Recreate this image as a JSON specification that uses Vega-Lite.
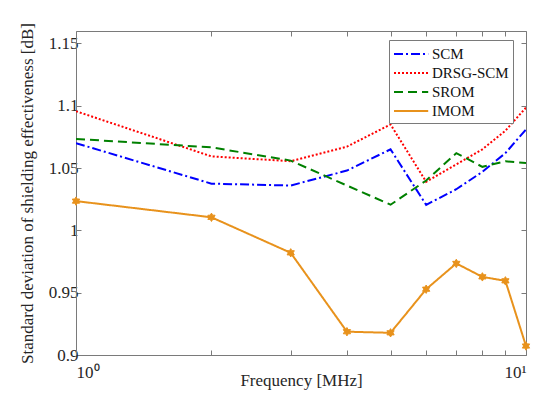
{
  "$schema": "https://vega.github.io/schema/vega-lite/v6.json",
  "autosize": "none",
  "width": 450,
  "height": 324,
  "padding": {"left": 76, "top": 31, "right": 13, "bottom": 41},
  "background": "white",
  "data": {"values": [
    {"f": 1, "series": "SCM", "v": 1.070},
    {"f": 2, "series": "SCM", "v": 1.0375},
    {"f": 3, "series": "SCM", "v": 1.036},
    {"f": 4, "series": "SCM", "v": 1.048},
    {"f": 5, "series": "SCM", "v": 1.065},
    {"f": 6, "series": "SCM", "v": 1.0205},
    {"f": 7, "series": "SCM", "v": 1.033},
    {"f": 8, "series": "SCM", "v": 1.047},
    {"f": 9, "series": "SCM", "v": 1.062},
    {"f": 10, "series": "SCM", "v": 1.081},
    {"f": 1, "series": "DRSG-SCM", "v": 1.0956},
    {"f": 2, "series": "DRSG-SCM", "v": 1.0594},
    {"f": 3, "series": "DRSG-SCM", "v": 1.0555},
    {"f": 4, "series": "DRSG-SCM", "v": 1.0672},
    {"f": 5, "series": "DRSG-SCM", "v": 1.085},
    {"f": 6, "series": "DRSG-SCM", "v": 1.039},
    {"f": 7, "series": "DRSG-SCM", "v": 1.053},
    {"f": 8, "series": "DRSG-SCM", "v": 1.065},
    {"f": 9, "series": "DRSG-SCM", "v": 1.080},
    {"f": 10, "series": "DRSG-SCM", "v": 1.0985},
    {"f": 1, "series": "SROM", "v": 1.0734},
    {"f": 2, "series": "SROM", "v": 1.0666},
    {"f": 3, "series": "SROM", "v": 1.056},
    {"f": 4, "series": "SROM", "v": 1.036},
    {"f": 5, "series": "SROM", "v": 1.0206},
    {"f": 6, "series": "SROM", "v": 1.040},
    {"f": 7, "series": "SROM", "v": 1.062},
    {"f": 8, "series": "SROM", "v": 1.051},
    {"f": 9, "series": "SROM", "v": 1.0555},
    {"f": 10, "series": "SROM", "v": 1.054},
    {"f": 1, "series": "IMOM", "v": 1.0235},
    {"f": 2, "series": "IMOM", "v": 1.0105},
    {"f": 3, "series": "IMOM", "v": 0.982},
    {"f": 4, "series": "IMOM", "v": 0.9187},
    {"f": 5, "series": "IMOM", "v": 0.9178},
    {"f": 6, "series": "IMOM", "v": 0.9528},
    {"f": 7, "series": "IMOM", "v": 0.9735},
    {"f": 8, "series": "IMOM", "v": 0.9627},
    {"f": 9, "series": "IMOM", "v": 0.9595},
    {"f": 10, "series": "IMOM", "v": 0.9072}
  ]},
  "layer": [
    {
      "mark": {"type": "line", "strokeWidth": 2, "clip": true},
      "encoding": {
        "x": {
          "field": "f", "type": "quantitative",
          "scale": {"type": "log", "domain": [1, 10], "nice": false},
          "axis": {
            "orient": "bottom",
            "title": "Frequency [MHz]",
            "values": [1, 2, 3, 4, 5, 6, 7, 8, 9, 10],
            "labelExpr": "datum.value == 1 ? '10⁰' : (datum.value == 10 ? '10¹' : '')",
            "labelPadding": 14,
            "titlePadding": -8
          }
        },
        "y": {
          "field": "v", "type": "quantitative",
          "scale": {"domain": [0.9, 1.16], "nice": false, "zero": false},
          "axis": {
            "orient": "left",
            "title": "Standard deviation of shielding effectiveness [dB]",
            "values": [0.9, 0.95, 1, 1.05, 1.1, 1.15],
            "format": ".2~f",
            "labelPadding": 3,
            "titlePadding": 12
          }
        },
        "color": {
          "field": "series", "type": "nominal",
          "scale": {"domain": ["SCM", "DRSG-SCM", "SROM", "IMOM"], "range": ["#0000ff", "#ff0000", "#008000", "#e8921c"]},
          "legend": {"title": null}
        },
        "strokeDash": {
          "field": "series", "type": "nominal",
          "scale": {"domain": ["SCM", "DRSG-SCM", "SROM", "IMOM"], "range": [[9, 3, 2, 3], [2, 2], [9, 5], [1, 0]]},
          "legend": {"title": null}
        }
      }
    },
    {
      "transform": [{"filter": "datum.series == 'IMOM'"}],
      "mark": {
        "type": "point",
        "shape": "M0,-1L0.289,-0.5L0.866,-0.5L0.577,0L0.866,0.5L0.289,0.5L0,1L-0.289,0.5L-0.866,0.5L-0.577,0L-0.866,-0.5L-0.289,-0.5Z",
        "size": 70,
        "filled": true,
        "fill": "#e8921c",
        "stroke": "#e8921c",
        "strokeWidth": 1,
        "opacity": 1
      },
      "encoding": {
        "x": {
          "field": "f", "type": "quantitative",
          "axis": {"orient": "top", "title": null, "labels": false, "values": [1, 2, 3, 4, 5, 6, 7, 8, 9, 10]}
        },
        "y": {
          "field": "v", "type": "quantitative",
          "axis": {"orient": "right", "title": null, "labels": false, "values": [0.9, 0.95, 1, 1.05, 1.1, 1.15]}
        }
      }
    }
  ],
  "resolve": {"axis": {"x": "independent", "y": "independent"}},
  "config": {
    "view": {"stroke": null},
    "axis": {
      "grid": false,
      "domainColor": "#7a7a7a",
      "domainWidth": 1,
      "tickColor": "#7a7a7a",
      "tickSize": -5,
      "labelFont": "Times New Roman",
      "labelFontSize": 17,
      "labelColor": "#262626",
      "titleFont": "Times New Roman",
      "titleFontSize": 17,
      "titleFontWeight": "normal",
      "titleColor": "#262626"
    },
    "legend": {
      "orient": "none",
      "legendX": 313,
      "legendY": 9,
      "fillColor": "white",
      "strokeColor": "#7a7a7a",
      "padding": 4,
      "labelFont": "Times New Roman",
      "labelFontSize": 15,
      "labelColor": "#111111",
      "symbolType": "M-1,0L2.8,0",
      "symbolSize": 324,
      "symbolStrokeWidth": 2,
      "rowPadding": 1,
      "labelOffset": 19
    }
  }
}
